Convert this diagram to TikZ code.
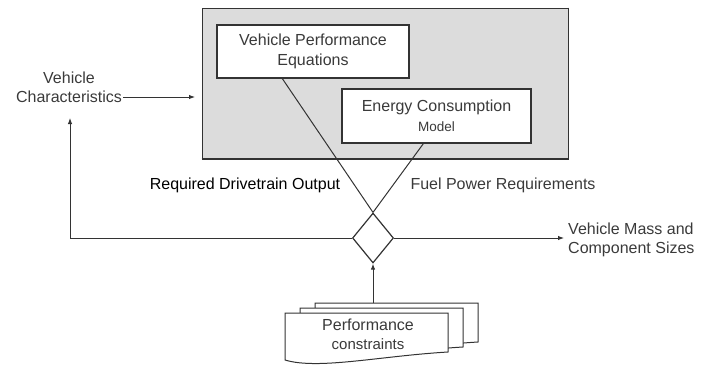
\documentclass[tikz,border=0pt]{standalone}
\usepackage{fontspec}
\setmainfont{Liberation Sans}
\usetikzlibrary{shapes.geometric,arrows.meta,calc}
\definecolor{ln}{HTML}{333333}
\definecolor{tx}{HTML}{3A3A3A}
\definecolor{gfill}{HTML}{DCDCDC}
\begin{document}
\begin{tikzpicture}[x=1pt,y=-1pt,
  big/.style={font=\fontsize{16}{19}\selectfont, text=tx, inner sep=1pt},
  arr/.style={-{Latex[length=6pt,width=4.5pt]}, draw=ln, line width=1pt},
  conn/.style={draw=ln, line width=1pt},
  box/.style={draw=ln, fill=white, line width=1.3pt, inner sep=0pt, align=center, font=\fontsize{16}{20}\selectfont, text=tx},
  docpath/.style={draw=ln, fill=white, line width=1pt}]
\useasboundingbox (0,0) rectangle (701,365);
% gray container
\node[draw=ln, fill=gfill, line width=0.8pt, minimum width=366pt, minimum height=151pt, inner sep=0pt] (gray) at (385,83.5) {};
\draw[ln, line width=2pt] (gray.south west) -- (gray.south east);
\draw[ln, line width=1.3pt] (gray.north east) -- (gray.south east);
% inner boxes
\node[box, minimum width=192pt, minimum height=53pt] (box1) at (313,51.5) {Vehicle Performance\\{\fontsize{16}{19}\selectfont Equations}};
\node[box, minimum width=189pt, minimum height=54pt] (box2) at (436.5,116) {Energy Consumption\\{\fontsize{13.5}{16}\selectfont Model}};
% diamond
\node[diamond, draw=ln, fill=white, line width=1.2pt, minimum width=41pt, minimum height=50pt, inner sep=0pt] (dia) at (373,238) {};
% connectors into diamond
\draw[conn] ([xshift=66pt]box1.south west) -- (dia.north);
\draw[conn] ([xshift=82pt]box2.south west) -- (dia.north);
% labels
\node[big, text=black] (rdo) at (245,185) {Required Drivetrain Output};
\node[big] (fpr) at (503,185) {Fuel Power Requirements};
% vehicle characteristics
\node[big, align=center] (vc) at (69,87) {Vehicle\\Characteristics};
\coordinate (vcin) at (195,97);
\draw[arr] ([yshift=-10pt]vc.east) -- (vcin);
\coordinate (lp) at (70,238);
\coordinate (lpe) at (70,118);
\draw[arr] (dia.west) -- (lp) -- (lpe);
% output
\coordinate (outc) at (564,238);
\draw[arr] (dia.east) -- (outc);
\node[big, align=left, anchor=west] (vm) at (567,240) {Vehicle Mass and\\Component Sizes};
% documents stack
\begin{scope}[shift={(30,-10)}]
\path[docpath] (285,313) -- (448,313) -- (448,352) .. controls (380,356) and (318,370) .. (285,360) -- cycle;
\end{scope}
\begin{scope}[shift={(15,-5)}]
\path[docpath] (285,313) -- (448,313) -- (448,352) .. controls (380,356) and (318,370) .. (285,360) -- cycle;
\end{scope}
\path[docpath] (285,313) -- (448,313) -- (448,352) .. controls (380,356) and (318,370) .. (285,360) -- cycle;
\node[big, align=center] (perf) at (368,334) {Performance\\{\fontsize{15}{18}\selectfont constraints}};
\coordinate (stacktop) at (373,303);
\draw[arr] (stacktop) -- (dia.south);
\end{tikzpicture}
\end{document}
